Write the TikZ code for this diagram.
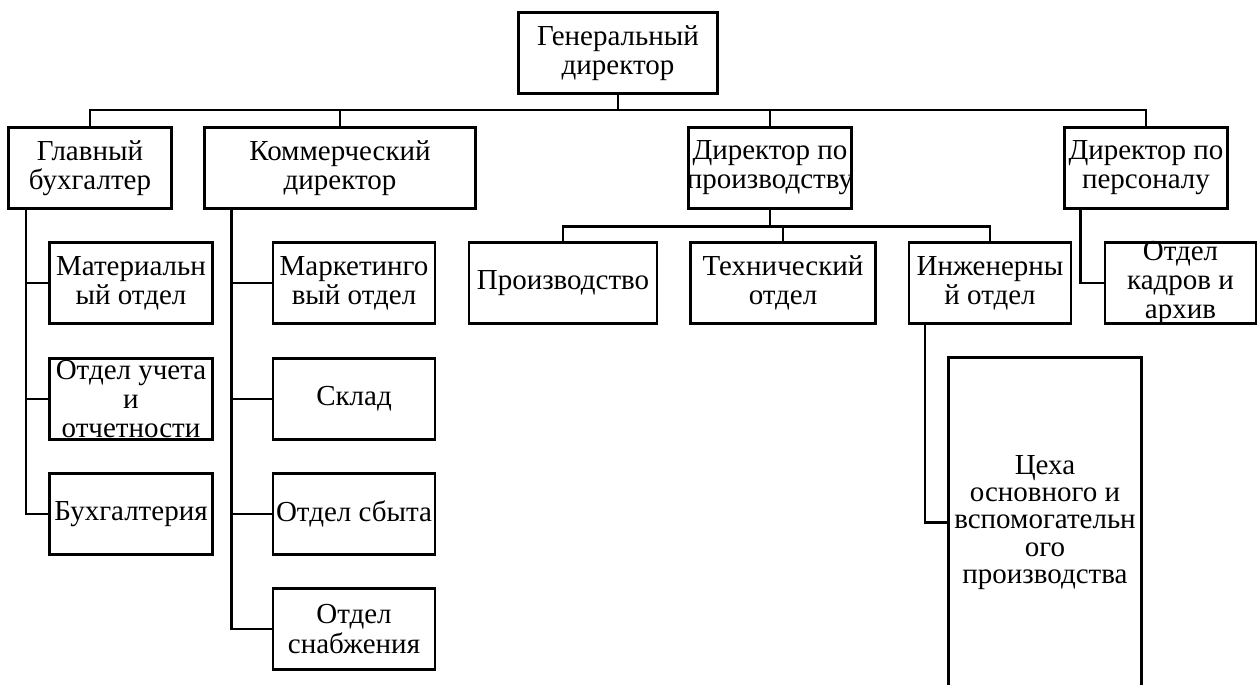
\documentclass[tikz,border=0pt]{standalone}
\usepackage{fontspec}
\setmainfont{Liberation Serif}
\tikzset{
  box/.style={draw, line width=1.6pt, minimum height=81*0.02cm, inner sep=0pt},
  wbox/.style={box, minimum width=#1*0.02cm},
  txt/.style={align=center, inner sep=0pt, font=\fontsize{16.5}{16.6}\selectfont},
  wire/.style={line width=1.6pt, line join=miter},
}
\begin{document}
\begin{tikzpicture}[x=0.02cm,y=-0.02cm]
  \useasboundingbox (0,0) rectangle (1260,685);
  \clip (0,0) rectangle (1260,685);
  % top level
  \node[wbox=199, label={[txt]center:Генеральный\\директор}] (gen) at (618,53) {};
  \coordinate (bus) at (618,110);
  \draw[wire] (gen) -- (bus);
  \foreach \n/\x/\w/\t in {
    gb/90/163/{Главный\\бухгалтер},
    kd/340/271/{Коммерческий\\директор},
    dp/770/163/{Директор по\\производству},
    dpers/1146/163/{Директор по\\персоналу}} {
    \node[wbox=\w, label={[txt]center:\t}] (\n) at (\x,168) {};
    \draw[wire] (bus) -| (\n.north);
  }
  % chief accountant
  \coordinate (gbt) at ([xshift=-1.28cm]gb.south);
  \foreach \n/\y/\t in {
    mat/283/{Материальн\\ый отдел},
    uch/399/{Отдел учета\\и\\отчетности},
    buh/514/Бухгалтерия} {
    \node[wbox=163, label={[txt]center:\t}] (\n) at (131,\y) {};
    \draw[wire] (gbt) |- (\n.west);
  }
  % commercial director
  \coordinate (kdt) at ([xshift=-2.17cm]kd.south);
  \foreach \n/\y/\t in {
    mark/283/{Маркетинго\\вый отдел},
    sklad/399/Склад,
    sbyt/514/Отдел сбыта,
    snab/629/{Отдел\\снабжения}} {
    \node[wbox=162, label={[txt]center:\t}] (\n) at (354,\y) {};
    \draw[wire] (kdt) |- (\n.west);
  }
  % production director
  \coordinate (dpbus) at ([yshift=-0.33cm]dp.south);
  \draw[wire] (dp) -- (dpbus);
  \foreach \n/\x/\w/\t in {
    proizv/563/188/Производство,
    tech/783/185/{Технический\\отдел},
    inzh/990/162/{Инженерны\\й отдел}} {
    \node[wbox=\w, label={[txt]center:\t}] (\n) at (\x,283) {};
    \draw[wire] (dpbus) -| (\n.north);
  }
  \coordinate (inzht) at ([xshift=-1.3cm]inzh.south);
  \node[wbox=193, minimum height=330*0.02cm,
    label={[txt, font=\fontsize{16.5}{15.6}\selectfont]center:Цеха\\основного и\\вспомогательн\\ого\\производства}] (tseh) at (1045,522.5) {};
  \draw[wire] (inzht) |- (tseh.west);
  % personnel director
  \coordinate (dperst) at ([xshift=-1.31cm]dpers.south);
  \node[wbox=151, label={[txt]center:Отдел\\кадров и\\архив}] (kadry) at (1180.5,283) {};
  \draw[wire] (dperst) |- (kadry.west);
\end{tikzpicture}
\end{document}
